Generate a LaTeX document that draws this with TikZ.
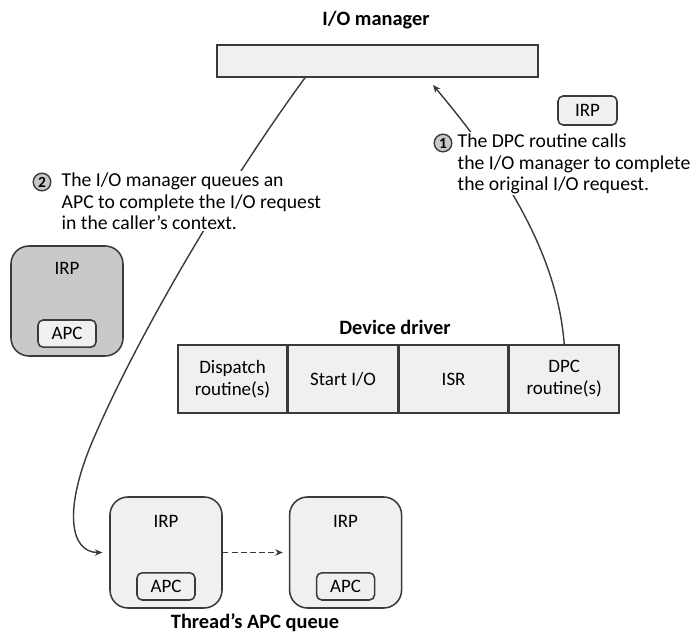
\documentclass[tikz,border=0pt]{standalone}
\usepackage{fontspec}
\setmainfont{Carlito}
\usetikzlibrary{positioning,arrows.meta}
\definecolor{boxfill}{HTML}{F0F0F0}
\definecolor{irpgray}{HTML}{C9C9C9}
\definecolor{edge}{HTML}{3A3A3A}
\begin{document}
\begin{tikzpicture}[x=0.025cm,y=-0.025cm,
  font=\fontsize{13.5}{15.6}\selectfont,
  box/.style={draw=edge,line width=1.1pt,fill=boxfill,inner sep=0pt},
  cell/.style={box,minimum width=2.725cm,minimum height=1.7cm,align=center},
  irp/.style={box,rounded corners=0.45cm,minimum width=2.8cm,minimum height=2.775cm},
  apc/.style={box,rounded corners=0.13cm,minimum width=1.45cm,minimum height=0.68cm},
  title/.style={font=\fontsize{14.5}{15}\selectfont\bfseries},
  note/.style={fill=white,align=left,inner sep=1pt,font=\fontsize{14}{15.4}\selectfont},
  numdot/.style={circle,draw=edge,line width=1pt,fill=irpgray,inner sep=0pt,
    minimum size=0.44cm,font=\fontsize{11}{11}\selectfont\bfseries},
  arr/.style={draw=edge,line width=1pt,-{Stealth[length=1.9mm,width=1.6mm]}}]
  \useasboundingbox (0,0) rectangle (698,635);

  \node[title] (mgrtitle) at (376,20) {I/O manager};
  \node[box,minimum width=8.025cm,minimum height=0.8cm] (iomgr) at (377.5,61) {};
  \node[apc,minimum width=1.475cm,minimum height=0.725cm] (irptop) at (587.5,110.5) {IRP};

  \node[title] (ddtitle) at (395,327) {Device driver};
  \node[cell] (dispatch) at (232.5,379) {Dispatch\\routine(s)};
  \node[cell,right=0pt of dispatch] (startio) {Start I/O};
  \node[cell,right=0pt of startio] (isr) {ISR};
  \node[cell,right=0pt of isr] (dpc) {DPC\\routine(s)};

  \node[irp,fill=irpgray,minimum height=2.75cm] (irpold) at (67,301) {};
  \node[below=0.57cm of irpold.north,anchor=center] (irpoldlbl) {IRP};
  \node[apc,above=0.22cm of irpold.south] (apcold) {APC};

  \node[irp] (queue1) at (166,552.5) {};
  \node[irp,right=1.65cm of queue1] (queue2) {};
  \node[below=0.62cm of queue1.north,anchor=center] (irp1) {IRP};
  \node[below=0.62cm of queue2.north,anchor=center] (irp2) {IRP};
  \node[apc,above=0.2cm of queue1.south] (apc1) {APC};
  \node[apc,above=0.2cm of queue2.south] (apc2) {APC};
  \node[title] (qtitle) at (255,623) {Thread's APC queue};

  \coordinate (hit) at (433,85);
  \draw[arr] (dpc.north) .. controls (557,250) and (500,165) .. (hit);
  \draw[arr,shorten >=0.17cm] ([xshift=-1.8125cm]iomgr.south) .. controls (225,187) and (138,335) .. (93,440)
    .. controls (63,510) and (70,552.5) .. (queue1.west);
  \draw[arr,dashed,dash pattern=on 4pt off 2.5pt,shorten >=0.15cm] (queue1.east) -- (queue2.west);

  \node[note,anchor=north west] (notea) at (456,132) {The DPC routine calls\\the I/O manager to complete\\the original I/O request.};
  \node[numdot] (numa) at (443,143) {1};
  \node[note,anchor=north west] (noteb) at (60,171) {The I/O manager queues an\\APC to complete the I/O request\\in the caller's context.};
  \node[numdot] (numb) at (42,182) {2};
\end{tikzpicture}
\end{document}
